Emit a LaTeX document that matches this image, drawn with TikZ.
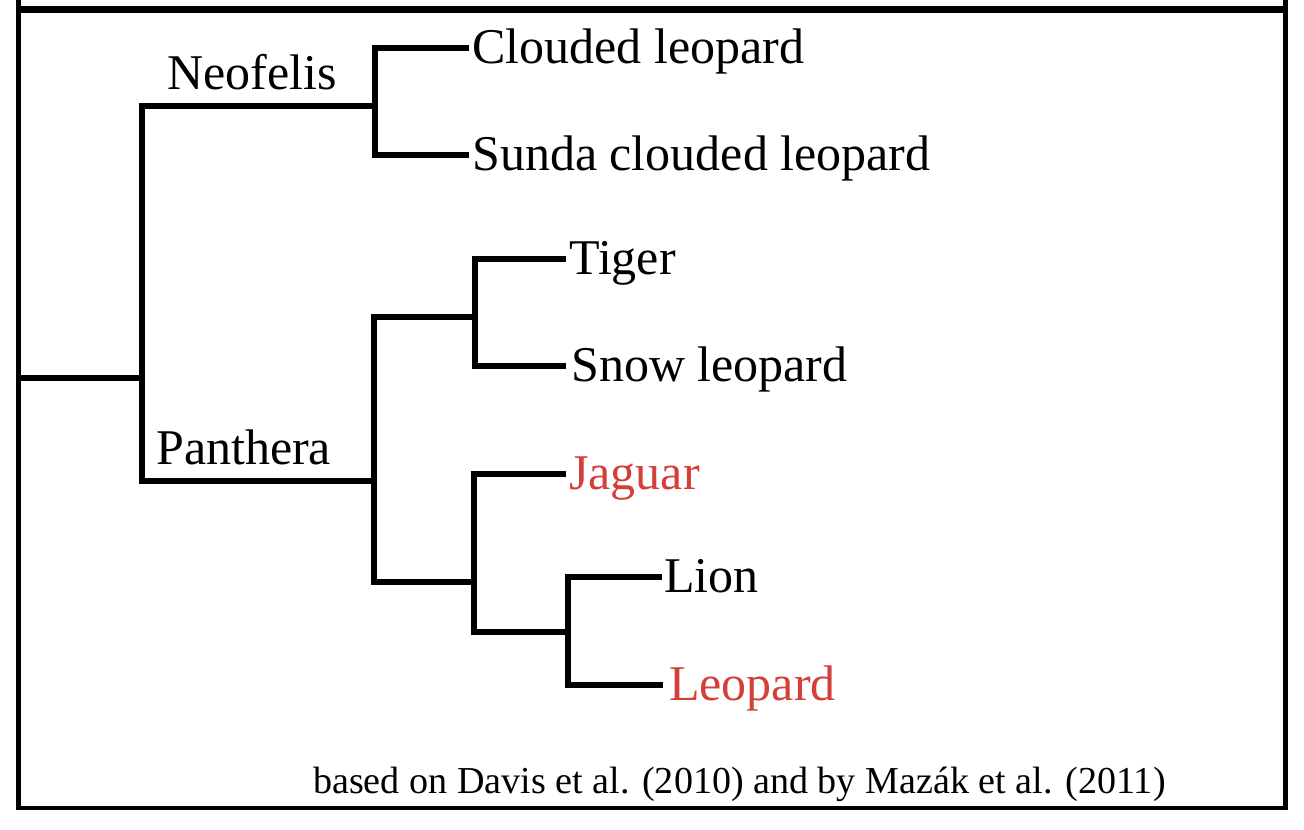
\documentclass[tikz,border=0pt]{standalone}
\usepackage{fontspec}
\setmainfont{Liberation Serif}
\definecolor{redlbl}{RGB}{212,63,58}
\begin{document}
\begin{tikzpicture}[x=1pt,y=-1pt,
  br/.style={line width=6pt, line join=miter},
  frame/.style={line width=4.5pt},
  lbl/.style={anchor=base west, inner sep=0pt, font=\fontsize{50}{60}\selectfont},
  leaf/.style={lbl, xshift=3pt, yshift=-15pt},
  hl/.style={text=redlbl},
  note/.style={anchor=base west, inner sep=0pt, font=\fontsize{38.1}{46}\selectfont}
]
\useasboundingbox (0,0) rectangle (1304,830);
\fill[white] (0,0) rectangle (1304,830);
% frame
\draw[frame] (18.5,0) -- (18.5,808) -- (1285.5,808) -- (1285.5,0);
\draw[line width=7pt] (16.5,9) -- (1287.5,9);
% junctions
\coordinate (r) at (18.5,378);
\coordinate (A) at (141.5,378);
\coordinate (N) at (374.5,106);
\coordinate (P) at (374,481);
\coordinate (T) at (474.5,317);
\coordinate (Q) at (474,582);
\coordinate (L) at (568,632);
% leaf tips
\coordinate (tcl) at (469,48);
\coordinate (tscl) at (469,155);
\coordinate (ttig) at (566,259);
\coordinate (tsno) at (566,366);
\coordinate (tjag) at (566,474);
\coordinate (tlio) at (662,577);
\coordinate (tleo) at (663,685);
% branches
\draw[br] (r) -- (A);
\draw[br] (A) |- (N);
\draw[br] (A) |- (P);
\draw[br] (N) |- (tcl);
\draw[br] (N) |- (tscl);
\draw[br] (P) |- (T);
\draw[br] (P) |- (Q);
\draw[br] (T) |- (ttig);
\draw[br] (T) |- (tsno);
\draw[br] (Q) |- (tjag);
\draw[br] (Q) |- (L);
\draw[br] (L) |- (tlio);
\draw[br] (L) |- (tleo);
% labels
\node[leaf] (cl) at (tcl) {Clouded leopard};
\node[leaf] (scl) at (tscl) {Sunda clouded leopard};
\node[leaf] (tig) at (ttig) {Tiger};
\node[leaf, xshift=2pt] (sno) at (tsno) {Snow leopard};
\node[leaf, hl] (jag) at (tjag) {Jaguar};
\node[leaf, xshift=-1pt] (lio) at (tlio) {Lion};
\node[leaf, hl, xshift=3pt] (leo) at (tleo) {Leopard};
\node[lbl] (neo) at (167,89) {Neofelis};
\node[lbl] (pan) at (156,464) {Panthera};
\node[note] (src) at (313,793) {based on Davis et al. (2010) and by Mazák et al. (2011)};
\end{tikzpicture}
\end{document}
